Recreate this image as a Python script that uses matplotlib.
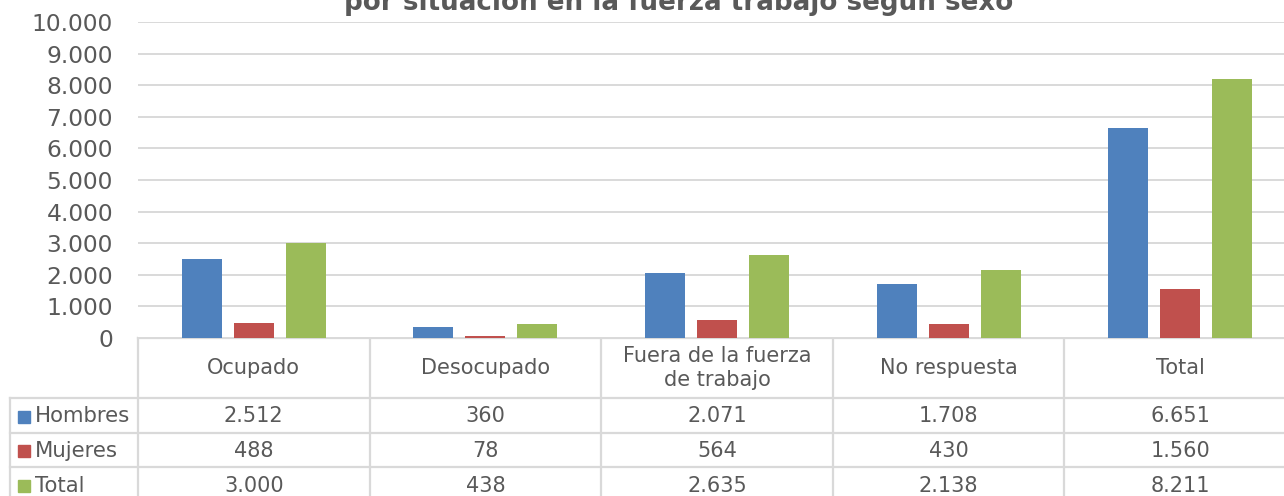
import matplotlib
matplotlib.use("Agg")
import matplotlib.pyplot as plt
from matplotlib.patches import Rectangle

categories = ["Ocupado", "Desocupado", "Fuera de la fuerza\nde trabajo", "No respuesta", "Total"]
series_names = ["Hombres", "Mujeres", "Total"]
hombres = [2512, 360, 2071, 1708, 6651]
mujeres = [488, 78, 564, 430, 1560]
total = [3000, 438, 2635, 2138, 8211]
series_values = [hombres, mujeres, total]
colors = ["#4F81BD", "#C0504D", "#9BBB59"]
yticks = list(range(0, 10001, 1000))
ytick_labels = [f"{v:,}".replace(",", ".") for v in yticks]
title = "por situación en la fuerza trabajo según sexo"

def fmt(v):
    return f"{v:,}".replace(",", ".")

W, H = 1284, 496
fig = plt.figure(figsize=(W / 100, H / 100), dpi=100)
plt.rcParams['font.family'] = ['DejaVu Sans']
txt_col = "#595959"
grid_col = "#D9D9D9"

x0, colw = 138, 231.6
y_axis0, y_top = 338, 22
ax = fig.add_axes([x0 / W, (H - y_axis0) / H, (5 * colw) / W, (y_axis0 - y_top) / H])
ax.set_xlim(-0.5, 4.5)
ax.set_ylim(0, 10000)
n = len(categories)
bw = 40 / colw
off = 52 / colw
for s, (vals, c) in enumerate(zip(series_values, colors)):
    xs = [i + (s - 1) * off for i in range(n)]
    ax.bar(xs, vals, width=bw, color=c, zorder=3, clip_on=False)
ax.set_yticks(yticks)
ax.set_yticklabels(ytick_labels, fontsize=16.8, color=txt_col)
ax.yaxis.grid(True, color=grid_col, linewidth=1.4, zorder=0)
ax.tick_params(axis='y', length=0, pad=18)
ax.tick_params(axis='x', length=0, labelbottom=False)
for sp in ax.spines.values():
    sp.set_visible(False)
ax.set_xticks([])

# table axes in pixel coordinates
tax = fig.add_axes([0, 0, 1, 1], zorder=-1)
tax.set_xlim(0, W)
tax.set_ylim(H, 0)
tax.axis('off')
lw = 1.6
col_edges = [x0 + i * colw for i in range(n + 1)]
row_edges = [338, 398, 433, 467, 502]
tax.plot([x0, W], [row_edges[0], row_edges[0]], color=grid_col, lw=lw)
for ry in row_edges[1:]:
    tax.plot([10, W], [ry, ry], color=grid_col, lw=lw)
tax.plot([10, 10], [row_edges[1], H], color=grid_col, lw=lw)
for cx in col_edges:
    tax.plot([cx, cx], [row_edges[0], H], color=grid_col, lw=lw)
for i, cat in enumerate(categories):
    cx = x0 + (i + 0.5) * colw
    tax.text(cx, 368, cat, ha='center', va='center', fontsize=15, color=txt_col, linespacing=1.2)
    for r, vals in enumerate(series_values):
        cy = (row_edges[r + 1] + row_edges[r + 2]) / 2 + 1
        tax.text(cx, cy, fmt(vals[i]), ha='center', va='center', fontsize=15, color=txt_col)
for r, (name, c) in enumerate(zip(series_names, colors)):
    cy = (row_edges[r + 1] + row_edges[r + 2]) / 2 + 1
    tax.add_patch(Rectangle((18, cy - 6), 12, 12, color=c))
    tax.text(35, cy, name, ha='left', va='center', fontsize=15.3, color=txt_col)

fig.text(679 / W, 1 - 10 / H, title, ha='center', va='baseline', fontsize=18.8, fontweight='bold', color=txt_col)

fig.savefig("out.png", dpi=100)
